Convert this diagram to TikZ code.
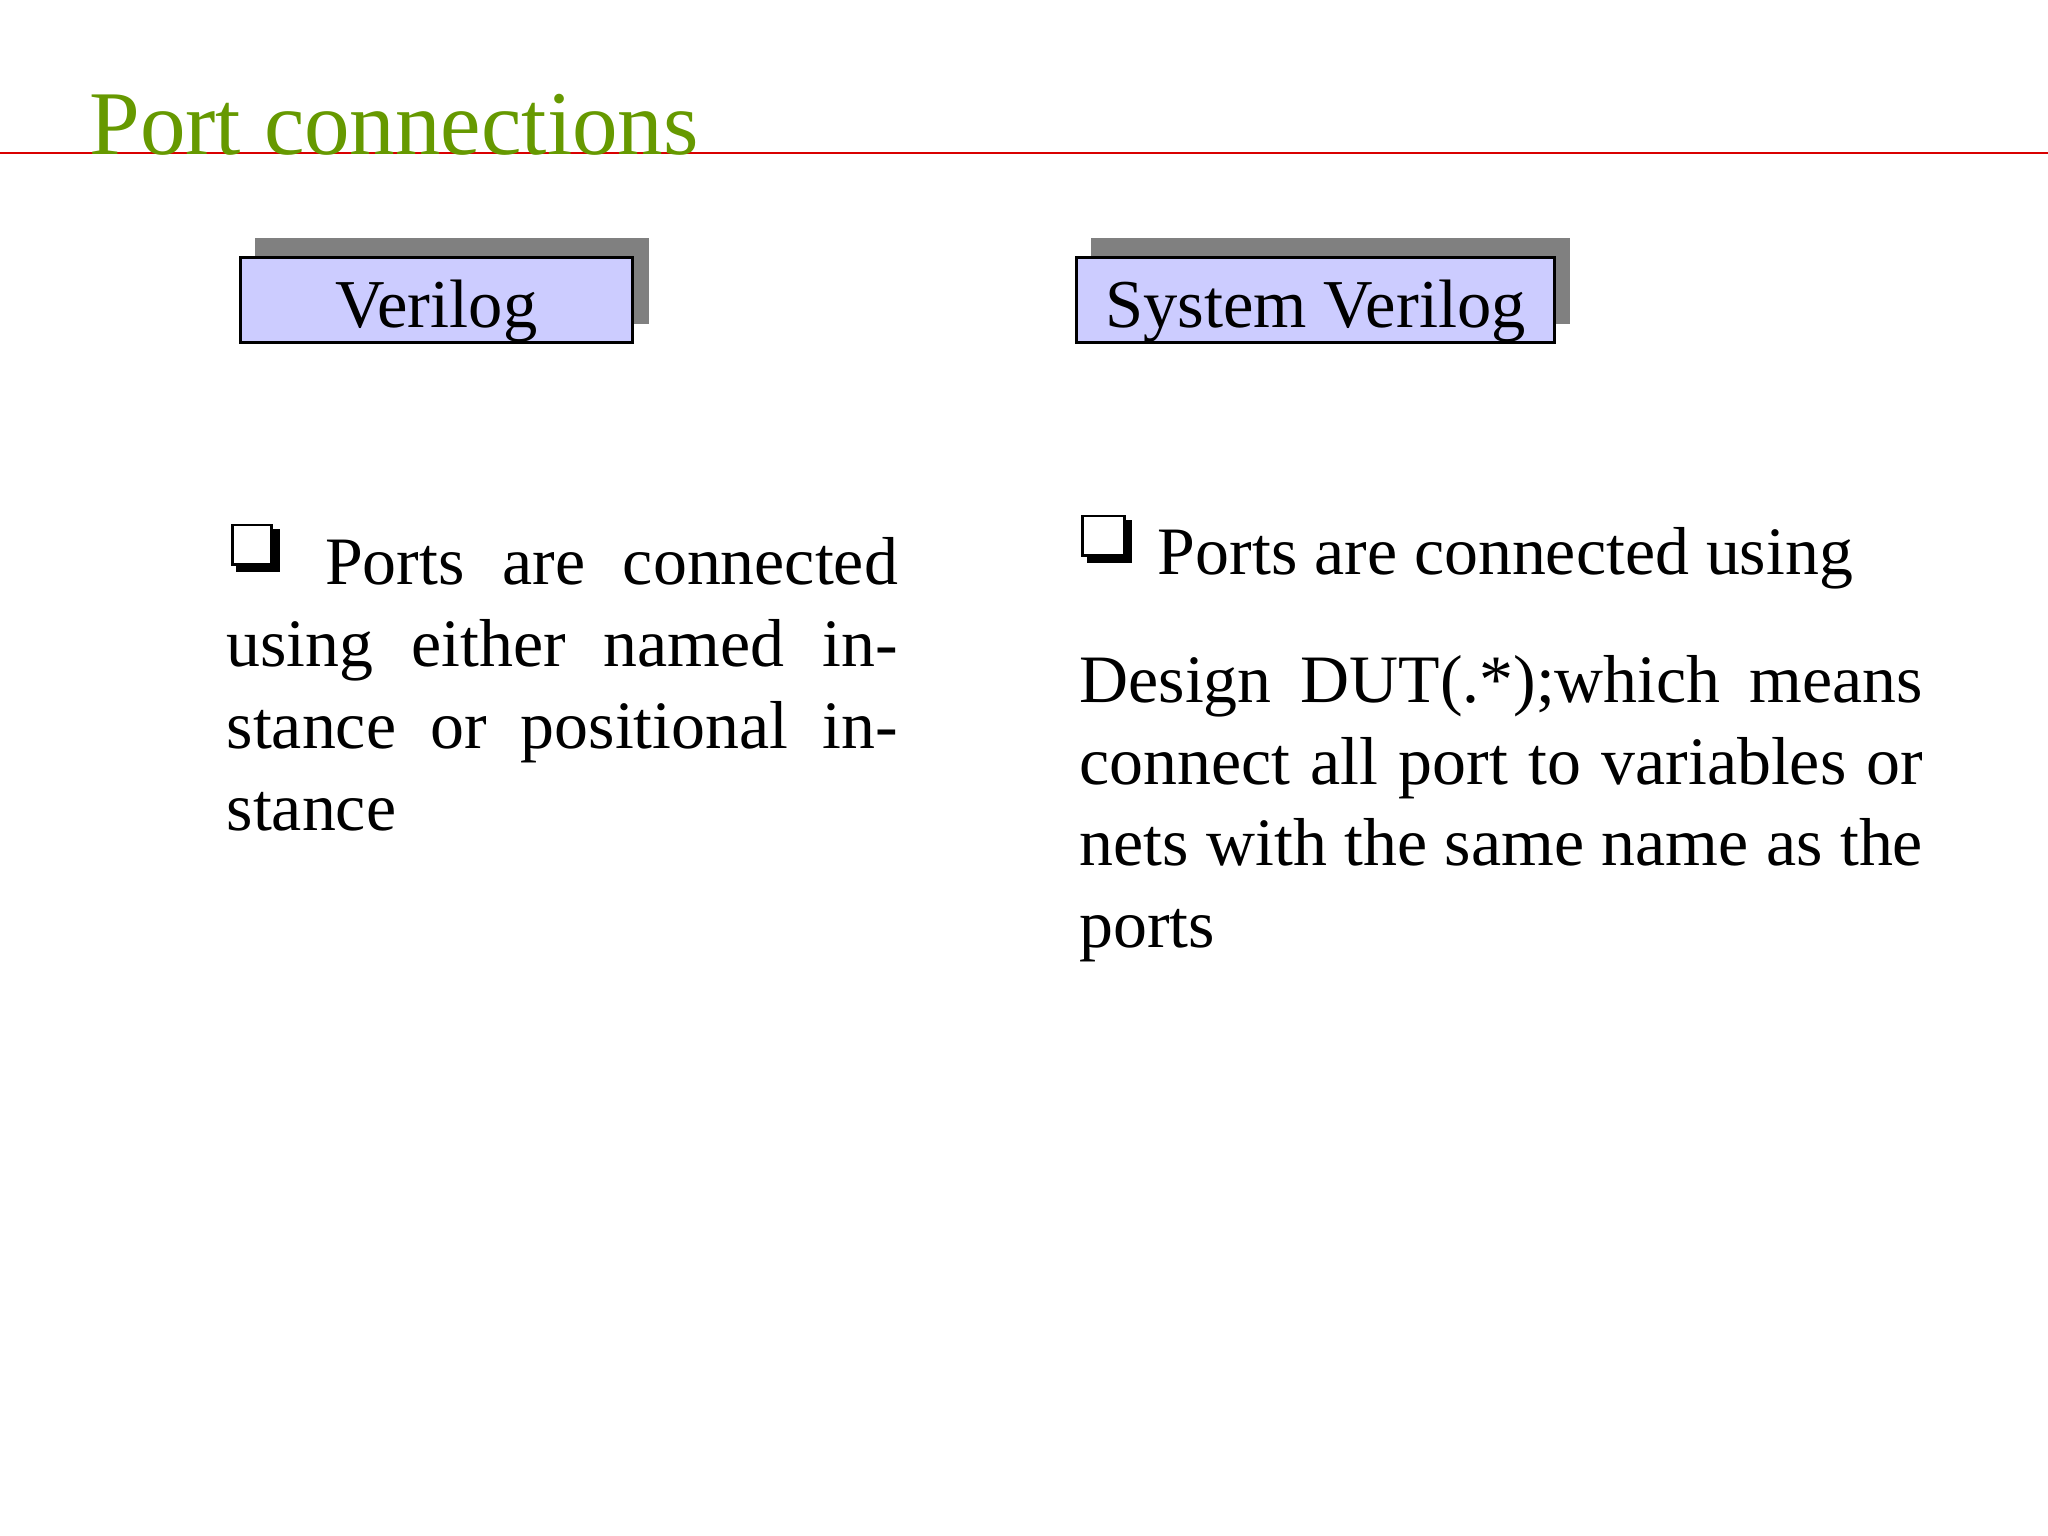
\documentclass[tikz,border=0pt]{standalone}
\usepackage{fontspec}
\setmainfont{Liberation Serif}
\definecolor{titlegreen}{HTML}{669900}
\definecolor{lav}{HTML}{CCCCFF}
\newcommand{\nohyph}{\hyphenpenalty=10000 \exhyphenpenalty=10000 \tolerance=9999 \emergencystretch=20pt }
\begin{document}
\begin{tikzpicture}[x=0.013061cm,y=-0.013061cm,
  hdr/.style={draw=black,fill=lav,line width=0.8pt,inner sep=0,minimum height=65*0.013061cm,text height=19pt,text depth=3pt,font=\fontsize{19.5}{23}\selectfont},
  shade/.style={fill=black!50},
  para/.style={inner sep=0,anchor=north west,align=justify,font=\fontsize{19.3}{23.3}\selectfont},
  sqbul/.style={draw=black,line width=0.8pt}]
\useasboundingbox (0,0) rectangle (1568,1176);
\draw[red!85!black,line width=0.6pt] (0,117) -- (1568,117);
\node[anchor=base west,inner sep=0,text=titlegreen,font=\fontsize{25.9}{30}\selectfont] (title) at (68,118) {Port connections};
% left header
\fill[shade] (195,182) rectangle (497,248);
\node[hdr,anchor=north west,minimum width=300*0.013061cm] (vl) at (183,196) {Verilog};
% right header
\fill[shade] (835,182) rectangle (1202,248);
\node[hdr,anchor=north west,minimum width=366*0.013061cm] (sv) at (823,196) {System Verilog};
% bullets
\fill (181,405) rectangle (214,438);
\filldraw[fill=white,sqbul] (178,402) rectangle (208,432);
\fill (832,398) rectangle (867,431);
\filldraw[fill=white,sqbul] (829,395) rectangle (861,425);
% left paragraph
\node[para,text width=191pt] (lp) at (173,411) {\nohyph\hspace*{28pt}Ports are connected using either named instance or positional instance};
% right
\node[anchor=base west,inner sep=0,font=\fontsize{19.3}{23.3}\selectfont] (rl) at (886,440) {Ports are connected using};
\node[para,text width=240pt] (rp) at (826,501) {\nohyph Design DUT(.*);which means connect all port to variables or nets with the same name as the ports};
\end{tikzpicture}
\end{document}
